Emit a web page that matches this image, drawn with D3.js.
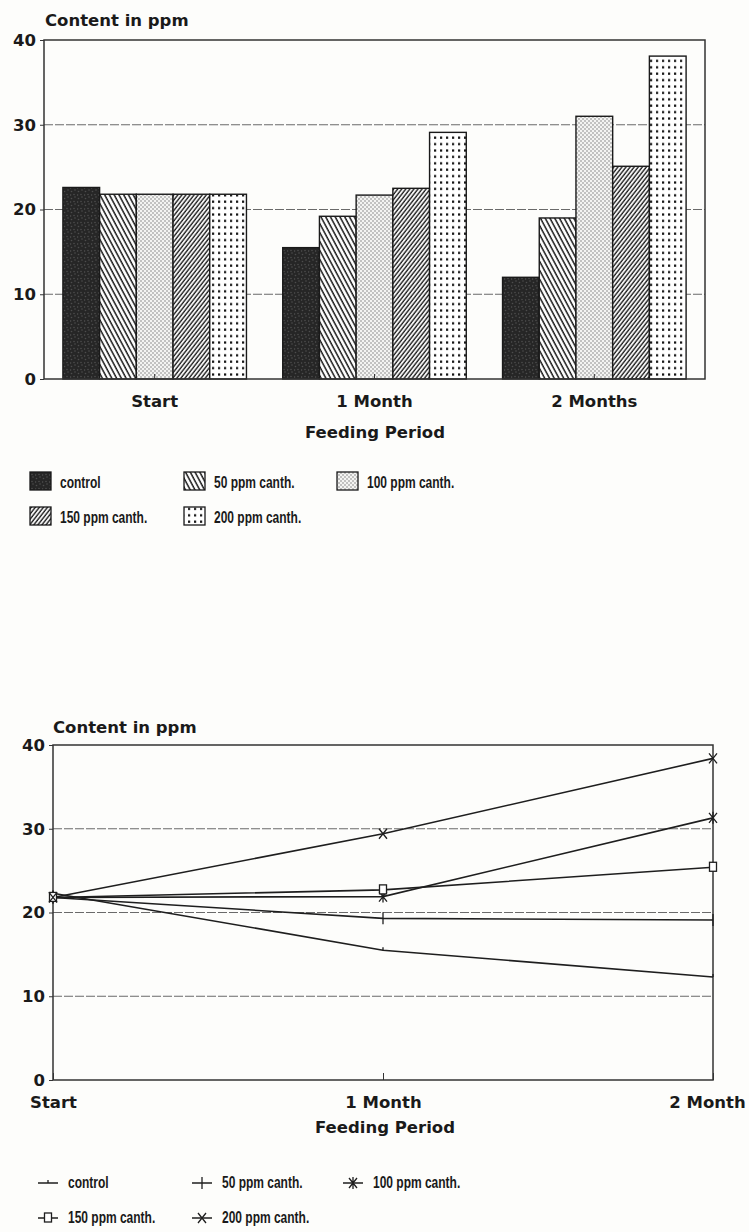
<!DOCTYPE html>
<html>
<head>
<meta charset="utf-8">
<script src="https://cdn.jsdelivr.net/npm/d3@7"></script>
<style>
  html, body { margin: 0; padding: 0; background: #fdfdfb; }
  svg { display: block; }
  .lbl { font-family: "DejaVu Sans", sans-serif; font-weight: bold; font-size: 16.5px; fill: #1a1a1a; }
  .leg { font-family: "Liberation Sans", Arial, sans-serif; font-weight: bold; font-size: 16px; fill: #1a1a1a; }
</style>
</head>
<body>
<script>
// ---------- DATA ----------
const categories = ["Start", "1 Month", "2 Months"];
const seriesNames = ["control", "50 ppm canth.", "100 ppm canth.", "150 ppm canth.", "200 ppm canth."];
const barControl = [22.6, 15.5, 12.0];
const bar50 = [21.8, 19.2, 19.0];
const bar100 = [21.8, 21.7, 31.0];
const bar150 = [21.8, 22.5, 25.1];
const bar200 = [21.8, 29.1, 38.1];

const lineCategories = ["Start", "1 Month", "2 Month"];
const lineControl = [22.3, 15.5, 12.3];
const line50 = [21.8, 19.3, 19.1];
const line100 = [21.8, 21.9, 31.3];
const line150 = [21.8, 22.7, 25.4];
const line200 = [21.8, 29.4, 38.4];

const yTicks = [0, 10, 20, 30, 40];
const gridTicks = [10, 20, 30];
const yTitle = "Content in ppm";
const xTitle = "Feeding Period";

const barSeries = [barControl, bar50, bar100, bar150, bar200];
const lineSeries = [lineControl, line50, line100, line150, line200];

// ---------- SVG ----------
const W = 749, H = 1232;
const svg = d3.select("body").append("svg").attr("width", W).attr("height", H);
const defs = svg.append("defs");

function pat(id, w, h, transform) {
  const p = defs.append("pattern").attr("id", id).attr("patternUnits", "userSpaceOnUse")
    .attr("width", w).attr("height", h);
  if (transform) p.attr("patternTransform", transform);
  return p;
}
// control: dark speckled
{
  const p = pat("pControl", 7, 7);
  p.append("rect").attr("width", 7).attr("height", 7).attr("fill", "#262626");
  [[1.5, 2.5], [5, 1], [4, 5.5], [0.5, 6]].forEach(([x, y]) =>
    p.append("circle").attr("cx", x).attr("cy", y).attr("r", 0.8).attr("fill", "#4d4d4d"));
}
// 50 ppm: back diagonal
{
  const p = pat("p50", 4.2, 10, "rotate(-28)");
  p.append("rect").attr("width", 4.2).attr("height", 10).attr("fill", "#fff");
  p.append("line").attr("x1", 1).attr("x2", 1).attr("y1", 0).attr("y2", 10).attr("stroke", "#1a1a1a").attr("stroke-width", 1.5);
}
// 100 ppm: fine stipple
{
  const p = pat("p100", 4, 4);
  p.append("rect").attr("width", 4).attr("height", 4).attr("fill", "#f4f4f2");
  [[1, 1], [3, 3]].forEach(([x, y]) =>
    p.append("circle").attr("cx", x).attr("cy", y).attr("r", 0.75).attr("fill", "#777"));
}
// 150 ppm: forward diagonal dense
{
  const p = pat("p150", 3.2, 10, "rotate(38)");
  p.append("rect").attr("width", 3.2).attr("height", 10).attr("fill", "#fff");
  p.append("line").attr("x1", 1).attr("x2", 1).attr("y1", 0).attr("y2", 10).attr("stroke", "#1a1a1a").attr("stroke-width", 1.4);
}
// 200 ppm: dot grid
{
  const p = pat("p200", 6, 6.4);
  p.append("rect").attr("width", 6).attr("height", 6.4).attr("fill", "#fff");
  p.append("rect").attr("x", 2).attr("y", 2.2).attr("width", 2.2).attr("height", 2.2).attr("fill", "#111");
}
const fills = ["url(#pControl)", "url(#p50)", "url(#p100)", "url(#p150)", "url(#p200)"];

function styleAxisText(sel) {
  sel.selectAll("text").attr("class", "lbl").attr("font-size", null).attr("font-family", null).attr("fill", null);
}

// ================= BAR CHART =================
const b = { left: 44, right: 705, top: 40, bottom: 379 };
const yB = d3.scaleLinear().domain([0, 40]).range([b.bottom, b.top]);
const xB = d3.scaleBand().domain(categories).range([b.left, b.right]).paddingInner(0.165).paddingOuter(0.086);
const xS = d3.scaleBand().domain(seriesNames).range([0, xB.bandwidth()]).padding(0);

const gB = svg.append("g");
gB.selectAll("line.grid").data(gridTicks).join("line")
  .attr("x1", b.left).attr("x2", b.right)
  .attr("y1", d => yB(d)).attr("y2", d => yB(d))
  .attr("stroke", "#6a6a6a").attr("stroke-width", 1).attr("stroke-dasharray", "9,2");

categories.forEach((c, ci) => {
  seriesNames.forEach((s, si) => {
    const v = barSeries[si][ci];
    gB.append("rect")
      .attr("x", xB(c) + xS(s)).attr("y", yB(v))
      .attr("width", xS.bandwidth()).attr("height", yB(0) - yB(v))
      .attr("fill", fills[si]).attr("stroke", "#1a1a1a").attr("stroke-width", 1.4);
  });
});

gB.append("rect").attr("x", b.left).attr("y", b.top).attr("width", b.right - b.left).attr("height", b.bottom - b.top)
  .attr("fill", "none").attr("stroke", "#333").attr("stroke-width", 1.5);

const axBg = gB.append("g").attr("transform", `translate(${b.left},0)`)
  .call(d3.axisLeft(yB).tickValues(yTicks).tickSize(4).tickPadding(4));
axBg.select(".domain").remove();
axBg.selectAll("line").attr("stroke", "#333");
styleAxisText(axBg);

const axBxg = gB.append("g").attr("transform", `translate(0,${b.bottom})`)
  .call(d3.axisBottom(xB).tickSize(-5).tickPadding(16));
axBxg.select(".domain").remove();
axBxg.selectAll("line").attr("stroke", "#333");
styleAxisText(axBxg);

gB.append("text").attr("class", "lbl").attr("x", 45).attr("y", 26).text(yTitle);
gB.append("text").attr("class", "lbl").attr("x", 375).attr("y", 438).attr("text-anchor", "middle").text(xTitle);

const legPos = [[30, 472], [184, 472], [337, 472], [30, 507], [184, 507]];
seriesNames.forEach((s, i) => {
  const [x, y] = legPos[i];
  gB.append("rect").attr("x", x).attr("y", y).attr("width", 21).attr("height", 18)
    .attr("fill", fills[i]).attr("stroke", "#1a1a1a").attr("stroke-width", 1.3);
  gB.append("text").attr("class", "leg").attr("transform", `translate(${x + 30},${y + 16}) scale(0.75,1)`).text(s);
});

// ================= LINE CHART =================
const l = { left: 53, right: 713, top: 745, bottom: 1080 };
const yL = d3.scaleLinear().domain([0, 40]).range([l.bottom, l.top]);
const xL = d3.scalePoint().domain(lineCategories).range([l.left, l.right]).padding(0);

const gL = svg.append("g");
gL.selectAll("line.grid").data(gridTicks).join("line")
  .attr("x1", l.left).attr("x2", l.right)
  .attr("y1", d => yL(d)).attr("y2", d => yL(d))
  .attr("stroke", "#6a6a6a").attr("stroke-width", 1).attr("stroke-dasharray", "9,2");

gL.append("rect").attr("x", l.left).attr("y", l.top).attr("width", l.right - l.left).attr("height", l.bottom - l.top)
  .attr("fill", "none").attr("stroke", "#333").attr("stroke-width", 1.5);

const lineGen = d3.line().x((d, i) => xL(lineCategories[i])).y(d => yL(d));
lineSeries.forEach((vals) => {
  gL.append("path").attr("d", lineGen(vals)).attr("fill", "none")
    .attr("stroke", "#1e1e1e").attr("stroke-width", 1.6);
});

function marker(g, type, x, y) {
  const st = { stroke: "#1e1e1e", "stroke-width": 1.3, fill: "none" };
  const add = (tag) => { const e = g.append(tag); Object.entries(st).forEach(([k, v]) => e.attr(k, v)); return e; };
  if (type === 0) {
    add("line").attr("x1", x).attr("x2", x).attr("y1", y - 3).attr("y2", y);
  } else if (type === 1) {
    add("line").attr("x1", x).attr("x2", x).attr("y1", y - 6).attr("y2", y + 6);
  } else if (type === 2) {
    add("path").attr("d", `M${x - 4},${y - 5}L${x + 4},${y + 5}M${x + 4},${y - 5}L${x - 4},${y + 5}M${x},${y - 6}L${x},${y + 6}`);
  } else if (type === 3) {
    add("rect").attr("x", x - 3.5).attr("y", y - 5).attr("width", 7).attr("height", 9).attr("fill", "#fff");
  } else {
    add("path").attr("d", `M${x - 4},${y - 5}L${x + 4},${y + 5}M${x + 4},${y - 5}L${x - 4},${y + 5}`);
  }
}
lineSeries.forEach((vals, si) => {
  vals.forEach((v, i) => marker(gL, si, xL(lineCategories[i]), yL(v)));
});

const axLg = gL.append("g").attr("transform", `translate(${l.left},0)`)
  .call(d3.axisLeft(yL).tickValues(yTicks).tickSize(4).tickPadding(4));
axLg.select(".domain").remove();
axLg.selectAll("line").attr("stroke", "#333");
styleAxisText(axLg);

const axLxg = gL.append("g").attr("transform", `translate(0,${l.bottom})`)
  .call(d3.axisBottom(xL).tickSize(-7).tickPadding(16));
axLxg.select(".domain").remove();
axLxg.selectAll("line").attr("stroke", "#333");
styleAxisText(axLxg);
axLxg.selectAll("text").filter(d => d === "2 Month").attr("dx", -6);

gL.append("text").attr("class", "lbl").attr("x", 53).attr("y", 733).text(yTitle);
gL.append("text").attr("class", "lbl").attr("x", 385).attr("y", 1133).attr("text-anchor", "middle").text(xTitle);

const legPosL = [[38, 1183], [192, 1183], [343, 1183], [38, 1218], [192, 1218]];
seriesNames.forEach((s, i) => {
  const [x, y] = legPosL[i];
  gL.append("line").attr("x1", x).attr("x2", x + 20).attr("y1", y).attr("y2", y)
    .attr("stroke", "#1e1e1e").attr("stroke-width", 1.5);
  marker(gL, i, x + 10, y);
  gL.append("text").attr("class", "leg").attr("transform", `translate(${x + 30},${y + 5}) scale(0.75,1)`).text(s);
});
</script>
</body>
</html>
